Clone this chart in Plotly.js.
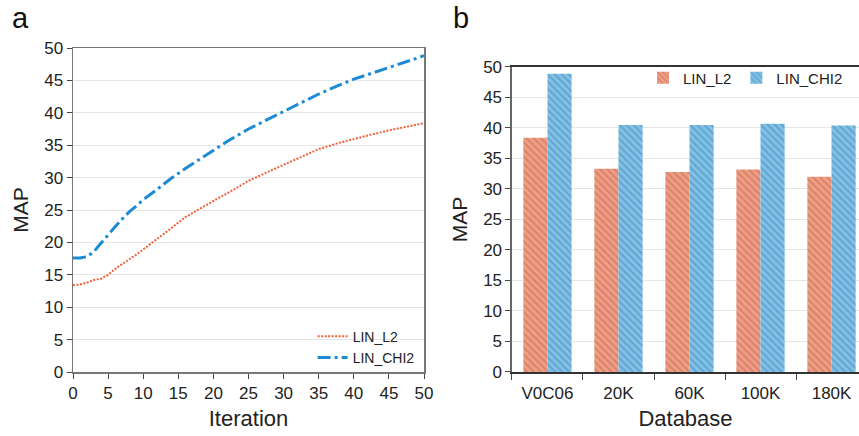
<!DOCTYPE html>
<html>
<head>
<meta charset="utf-8">
<script src="https://cdn.plot.ly/plotly-3.0.1.min.js"></script>
<style>html,body{margin:0;padding:0;background:#fff}#chart{width:859px;height:436px}</style>
</head>
<body>
<div id="chart"></div>
<script>
// Panel a: MAP vs iteration
const iterations = [0,1,2,3,4,5,6,7,8,9,10,12,14,16,18,20,22,25,28,30,33,35,38,40,42,45,48,50];
const linL2Iter  = [13.4,13.5,13.8,14.2,14.4,15.0,15.9,16.7,17.4,18.1,18.9,20.6,22.2,23.9,25.2,26.4,27.6,29.5,31.0,32.0,33.5,34.4,35.4,36.0,36.5,37.3,38.0,38.4];
const linChi2Iter= [17.6,17.6,17.8,18.6,19.9,21.2,22.4,23.6,24.7,25.6,26.6,28.2,29.9,31.4,32.8,34.3,35.6,37.5,39.1,40.2,41.8,42.9,44.3,45.2,45.9,47.0,48.0,48.8];

// Panel b: MAP vs database
const databases = ["V0C06","20K","60K","100K","180K"];
const linL2Db   = [38.4,33.3,32.8,33.2,32.0];
const linChi2Db = [48.9,40.5,40.5,40.7,40.4];

const seriesNames = ["LIN_L2","LIN_CHI2"];
const yTicks = [0,5,10,15,20,25,30,35,40,45,50];

const FONT = "Liberation Sans, Arial, sans-serif";
const red = "#F2603A", blue = "#1C8BD4";

const traces = [
  {x: iterations, y: linL2Iter, name: seriesNames[0], type: "scatter", mode: "lines",
   line: {color: red, width: 2, dash: "2px,1.5px"}, xaxis: "x", yaxis: "y", legend: "legend"},
  {x: iterations, y: linChi2Iter, name: seriesNames[1], type: "scatter", mode: "lines",
   line: {color: blue, width: 3, dash: "13px,4px,3px,4px"}, xaxis: "x", yaxis: "y", legend: "legend"},
  {x: databases, y: linL2Db, name: seriesNames[0], type: "bar", xaxis: "x2", yaxis: "y2", legend: "legend2",
   marker: {color: "#EC957C", line: {width: 0},
            pattern: {shape: "\\", bgcolor: "#EF9E86", fgcolor: "#D98068", size: 5, solidity: 0.35, fillmode: "replace"}}},
  {x: databases, y: linChi2Db, name: seriesNames[1], type: "bar", xaxis: "x2", yaxis: "y2", legend: "legend2",
   marker: {color: "#7DBCE0", line: {width: 0},
            pattern: {shape: "\\", bgcolor: "#82C0E4", fgcolor: "#5EA4D2", size: 5, solidity: 0.35, fillmode: "replace"}}}
];

const axBase = {
  tickfont: {family: FONT, size: 17, color: "#222"},
  showline: true, linecolor: "#666", linewidth: 1.5,
  ticks: "outside", ticklen: 5, tickcolor: "#444",
  zeroline: false
};

const layout = {
  width: 859, height: 436,
  margin: {l: 73, r: 0, t: 48, b: 64},
  paper_bgcolor: "#fff", plot_bgcolor: "#fff",
  font: {family: FONT, color: "#222"},
  barmode: "group", bargap: 0.32, bargroupgap: 0,
  xaxis: Object.assign({}, axBase, {
    domain: [0, 0.4466], range: [0, 50], tickvals: [0,5,10,15,20,25,30,35,40,45,50],
    mirror: true, showgrid: false, linecolor: "#777",
    title: {text: "Iteration", font: {family: FONT, size: 22, color: "#222"}, standoff: 8}
  }),
  yaxis: Object.assign({}, axBase, {
    domain: [0, 1], range: [0, 50], tickvals: yTicks, mirror: true, linecolor: "#777",
    showgrid: true, gridcolor: "#e6e6e6", gridwidth: 1,
    title: {text: "MAP", font: {family: FONT, size: 21, color: "#222"}, standoff: 10}
  }),
  xaxis2: Object.assign({}, axBase, {
    domain: [0.5585, 1], range: [-0.5, 4.387], type: "category",
    tickson: "boundaries", ticklen: 6, ticklabelstandoff: 5, mirror: true, linecolor: "#333", linewidth: 2,
    showgrid: false, anchor: "y2",
    title: {text: "Database", font: {family: FONT, size: 22, color: "#222"}, standoff: 8}
  }),
  yaxis2: Object.assign({}, axBase, {
    domain: [0, 0.9414], range: [0, 50], tickvals: yTicks, anchor: "x2",
    showgrid: true, gridcolor: "#e6e6e6", gridwidth: 1, mirror: false,
    title: {text: "MAP", font: {family: FONT, size: 21, color: "#222"}, standoff: 10}
  }),
  legend: {
    x: 0.441, y: -0.005, xanchor: "right", yanchor: "bottom",
    bgcolor: "rgba(255,255,255,0)", borderwidth: 0,
    font: {family: FONT, size: 14, color: "#222"},
    itemwidth: 30, tracegroupgap: 0
  },
  legend2: {
    orientation: "h", x: 0.986, y: 0.958, xanchor: "right", yanchor: "top",
    bgcolor: "rgba(255,255,255,0)", borderwidth: 0, itemwidth: 30,
    font: {family: FONT, size: 15, color: "#222"}
  },
  annotations: [
    {text: "a", xref: "paper", yref: "paper", x: -0.0674, y: 1.148, xanchor: "center", yanchor: "top",
     showarrow: false, font: {family: FONT, size: 29, color: "#111"}},
    {text: "b", xref: "paper", yref: "paper", x: 0.4936, y: 1.148, xanchor: "center", yanchor: "top",
     showarrow: false, font: {family: FONT, size: 29, color: "#111"}}
  ]
};

Plotly.newPlot("chart", traces, layout, {displayModeBar: false, staticPlot: true});
</script>
</body>
</html>
